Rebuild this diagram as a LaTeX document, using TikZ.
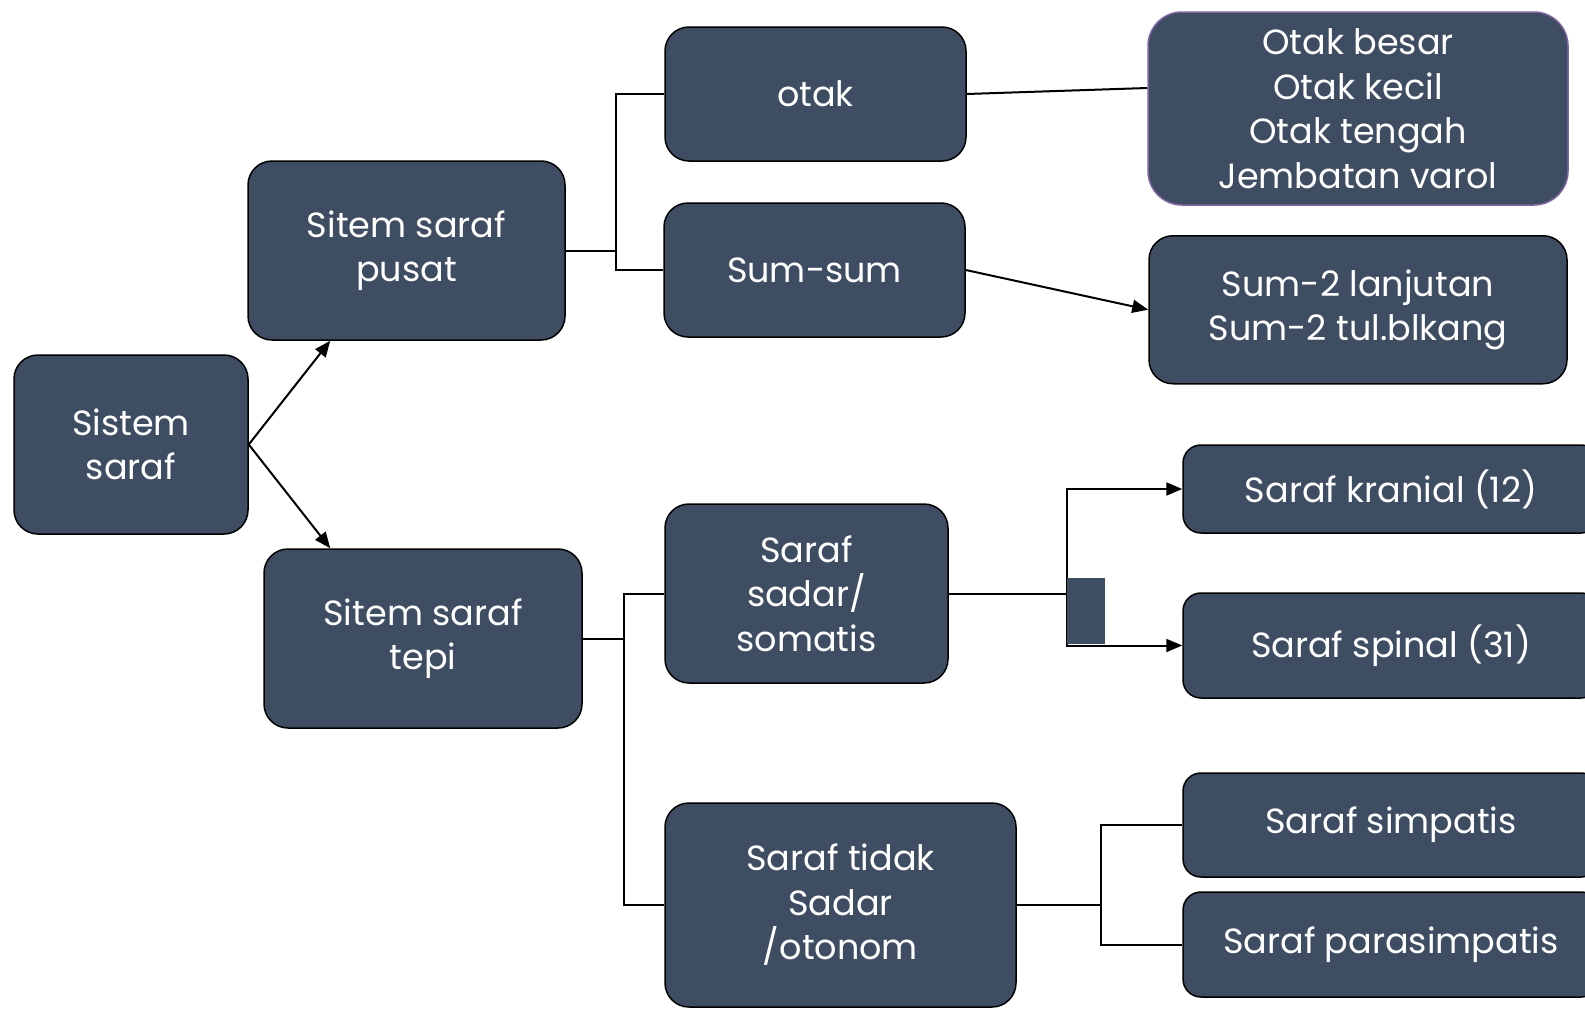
\documentclass[tikz,border=0pt]{standalone}
\usepackage{fontspec}
\setmainfont{Poppins}
\usetikzlibrary{arrows.meta}

\definecolor{isikotak}{HTML}{3F4D63}
\definecolor{garisungu}{HTML}{8064A2}

\tikzset{
  kotak/.style={draw=black, line width=1.5pt, fill=isikotak, rounded corners=24pt,
    text=white, align=center, inner sep=0pt,
    font=\fontsize{35}{44.5}\selectfont},
  garis/.style={line width=2pt, draw=black},
  panah/.style={garis, -{Triangle[length=16pt,width=13pt]}}
}

\begin{document}
\begin{tikzpicture}[x=1pt, y=-1pt]
    \clip (0,0) rectangle (1585,1009);

    % Kotak utama
    \node[kotak, minimum width=234pt, minimum height=179pt] (sistem) at (131,444.5) {Sistem\\saraf};
    \node[kotak, minimum width=317pt, minimum height=179pt] (pusat) at (406.5,250.5) {Sitem saraf\\pusat};
    \node[kotak, minimum width=318pt, minimum height=179pt] (tepi) at (423,638.5) {Sitem saraf\\tepi};

    % Cabang saraf pusat
    \node[kotak, minimum width=301pt, minimum height=134pt] (otak) at (815.5,94) {otak};
    \node[kotak, minimum width=301pt, minimum height=134pt] (sumsum) at (814.5,270) {Sum-sum};
    \node[kotak, draw=garisungu, minimum width=420pt, minimum height=193pt, rounded corners=34pt] (bagianotak) at (1358,108.5)
        {Otak besar\\Otak kecil\\Otak tengah\\Jembatan varol};
    \node[kotak, minimum width=418pt, minimum height=148pt] (bagiansumsum) at (1358,309.75)
        {Sum-2 lanjutan\\Sum-2 tul.blkang};

    % Cabang saraf tepi
    \node[kotak, minimum width=283pt, minimum height=179pt] (sadar) at (806.5,593.5) {Saraf\\sadar/\\somatis};
    \node[kotak, minimum width=351pt, minimum height=204pt] (otonom) at (840.5,905) {Saraf tidak\\Sadar\\/otonom};
    \node[kotak, minimum width=416pt, minimum height=88pt, rounded corners=18pt] (kranial) at (1391,489) {Saraf kranial (12)};
    \node[kotak, minimum width=416pt, minimum height=105pt, rounded corners=18pt] (spinal) at (1391,645.5) {Saraf spinal (31)};
    \node[kotak, minimum width=416pt, minimum height=104pt, rounded corners=18pt] (simpatis) at (1391,825) {Saraf simpatis};
    \node[kotak, minimum width=416pt, minimum height=105pt, rounded corners=18pt] (parasimpatis) at (1391,944.5) {Saraf parasimpatis};

    % Penghubung
    \draw[panah] (sistem.east) -- ([xshift=83pt]pusat.south west);
    \draw[panah] (sistem.east) -- ([xshift=67pt]tepi.north west);

    \draw[garis] (pusat.east) -- ++(50,0) |- (otak.west);
    \draw[garis] (pusat.east) -- ++(50,0) |- (sumsum.west);
    \draw[garis] (otak.east) -- ([yshift=20.5pt]bagianotak.west);
    \draw[panah] (sumsum.east) -- (bagiansumsum.west);

    \draw[garis] (tepi.east) -- ++(41.5,0) |- (sadar.west);
    \draw[garis] (tepi.east) -- ++(41.5,0) |- (otonom.west);

    \draw[panah] (sadar.east) -- ++(118,0) |- (kranial.west);
    \draw[panah] (sadar.east) -- ++(118,0) |- (spinal.west);
    \fill[isikotak] (1067,578) rectangle (1105,644);

    \draw[garis] (otonom.east) -- ++(84,0) |- (simpatis.west);
    \draw[garis] (otonom.east) -- ++(84,0) |- (parasimpatis.west);
\end{tikzpicture}
\end{document}
